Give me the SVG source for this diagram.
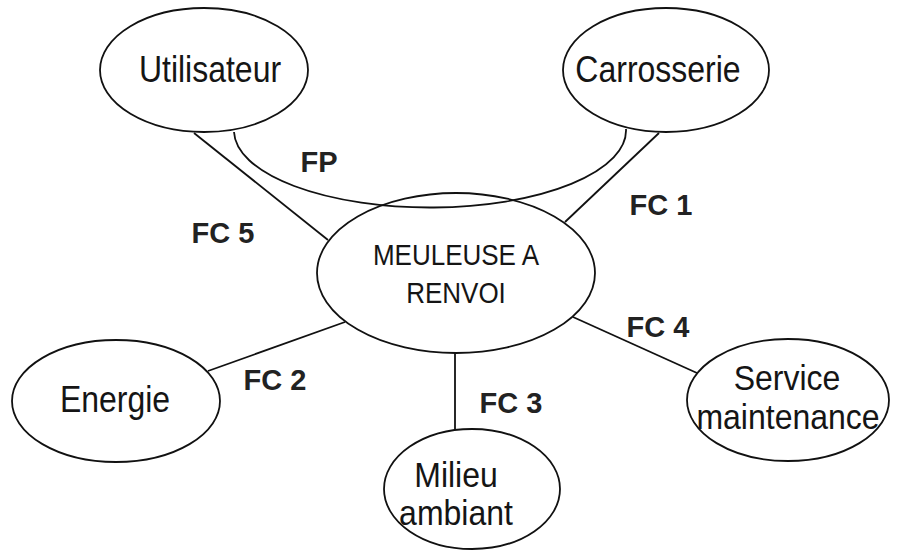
<svg xmlns="http://www.w3.org/2000/svg" width="898" height="552" viewBox="0 0 898 552">
<style>
.n{fill:#fff;stroke:#111;stroke-width:1.8}
.c{fill:none;stroke:#111;stroke-width:1.8}
.t{font-family:"Liberation Sans",Arial,sans-serif;font-size:32px;fill:#151515;text-anchor:middle}
.m{font-size:26px}
.l{font-family:"Liberation Sans",Arial,sans-serif;font-size:29px;font-weight:bold;fill:#222;text-anchor:middle}
</style>
<rect width="898" height="552" fill="#fff"/>
<g id="connectors">
<path class="c" d="M234 132 A196 77 0 0 0 626 129"/>
<line class="c" x1="194" y1="133" x2="328" y2="240"/>
<line class="c" x1="659" y1="133" x2="565" y2="222"/>
<line class="c" x1="208" y1="371" x2="345" y2="322"/>
<line class="c" x1="455" y1="353" x2="455" y2="430"/>
<line class="c" x1="573" y1="317" x2="697" y2="373"/>
<text class="l" x="319" y="172">FP</text>
<text class="l" x="661" y="215">FC 1</text>
<text class="l" x="223" y="243">FC 5</text>
<text class="l" x="658" y="337">FC 4</text>
<text class="l" x="275" y="390">FC 2</text>
<text class="l" x="511" y="413">FC 3</text>
</g>
<g id="utilisateur">
<ellipse class="n" cx="204" cy="70" rx="104" ry="62"/>
<text class="t" transform="translate(210 82) scale(1 1.13)">Utilisateur</text>
</g>
<g id="carrosserie">
<ellipse class="n" cx="666" cy="70" rx="103" ry="62"/>
<text class="t" transform="translate(658 82) scale(1 1.13)">Carrosserie</text>
</g>
<g id="meuleuse">
<ellipse class="n" cx="456" cy="273" rx="139" ry="80" style="fill:none"/>
<text class="t m" transform="translate(456 265) scale(1 1.13)">MEULEUSE A</text>
<text class="t m" transform="translate(456 303) scale(1 1.13)">RENVOI</text>
</g>
<g id="energie">
<ellipse class="n" cx="116" cy="401" rx="104" ry="61"/>
<text class="t" transform="translate(115 412) scale(1 1.13)">Energie</text>
</g>
<g id="milieu">
<ellipse class="n" cx="472" cy="489" rx="88" ry="60"/>
<text class="t" transform="translate(456 487) scale(1 1.1)">Milieu</text>
<text class="t" transform="translate(456 525) scale(1 1.1)">ambiant</text>
</g>
<g id="service">
<ellipse class="n" cx="788" cy="400" rx="101" ry="61"/>
<text class="t" transform="translate(787 390) scale(1 1.08)">Service</text>
<text class="t" transform="translate(788 429) scale(1 1.08)">maintenance</text>
</g>
</svg>
